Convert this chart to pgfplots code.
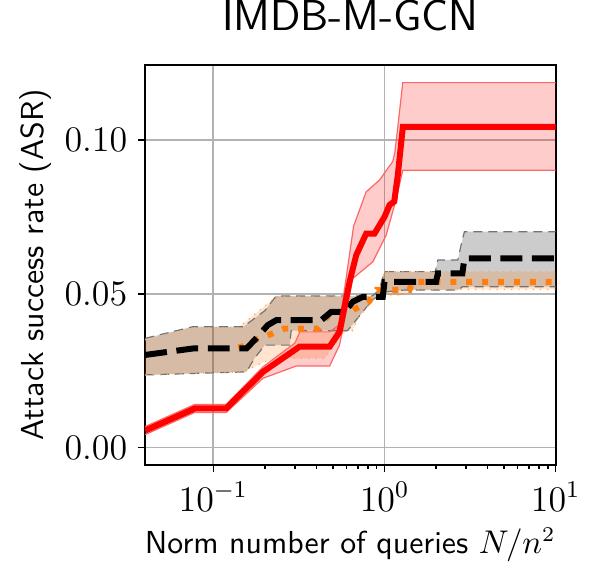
\documentclass[border=0pt]{standalone}
\usepackage{pgfplots}
\pgfplotsset{compat=1.18}
\usepgfplotslibrary{fillbetween}
\usetikzlibrary{calc}
\definecolor{mplorange}{HTML}{FF7F0E}

\begin{document}
\begin{tikzpicture}
\begin{axis}[
  scale only axis, width=136.9pt, height=133.3pt,
  xmode=log, xmin=0.0399, xmax=10, ymin=-0.0056, ymax=0.1245,
  xtick={0.1,1,10}, ytick={0,0.05,0.1}, yticklabels={$0.00$,$0.05$,$0.10$},
  xtick pos=bottom, ytick pos=left,
  tick align=outside, major tick length=2.4pt, minor tick length=1.3pt,
  every tick/.style={black, line width=0.5pt},
  grid=major, grid style={line width=0.6pt, black!30},
  axis line style={line width=0.6pt},
  tick label style={font=\fontsize{11.6}{12}\selectfont},
  title={\fontsize{14.4}{16}\selectfont\sffamily IMDB-M-GCN},
  title style={at={(axis description cs:0.5,1.0408)}, anchor=base, inner sep=0pt},
  xlabel={\fontsize{10.6}{12}\selectfont\sffamily Norm number of queries $N/n^2$},
  xlabel style={at={(axis description cs:0.5,-0.2218)}, anchor=base, inner sep=0pt},
  ylabel={\fontsize{10.6}{12}\selectfont\sffamily Attack success rate (ASR)},
  ylabel style={at={(axis description cs:-0.2476,0.5)}, anchor=base, rotate=0, inner sep=0pt},
  clip=true,
]
% gray band (black dashed method)
\addplot[name path=gu, densely dashed, black!55, line width=0.4pt] coordinates {
 (0.04,0.0355)(0.076,0.0393)(0.15,0.0393)(0.2,0.0445)(0.233,0.0493)(0.85,0.0493)(0.93,0.0512)(1.0,0.0572)(1.98,0.0572)(2.05,0.0610)(2.68,0.0610)(2.8,0.0658)(2.93,0.0702)(10,0.0702)};
\addplot[name path=gl, densely dashed, black!55, line width=0.4pt] coordinates {
 (0.04,0.0236)(0.156,0.0246)(0.174,0.0290)(0.2,0.0333)(0.279,0.0333)(0.285,0.0380)(0.608,0.0380)(0.85,0.0480)(1.0,0.0506)(1.3,0.0512)(2.7,0.0512)(2.85,0.0523)(10,0.0523)};
\addplot[black, opacity=0.2, draw=none] fill between[of=gu and gl];
% orange band
\addplot[name path=ou, dotted, mplorange!70, line width=0.4pt] coordinates {
 (0.04,0.0350)(0.076,0.0390)(0.14,0.0390)(0.2,0.0460)(0.233,0.0490)(0.9,0.0490)(1.0,0.0572)(10,0.0572)};
\addplot[name path=ol, dotted, mplorange!70, line width=0.4pt] coordinates {
 (0.04,0.0236)(0.15,0.0246)(0.2,0.0280)(0.25,0.0290)(0.45,0.0290)(0.5,0.0330)(0.6,0.0380)(0.65,0.0380)(0.7,0.0420)(0.8,0.0460)(0.9,0.0496)(1.3,0.0496)(1.45,0.0514)(10,0.0514)};
\addplot[mplorange, opacity=0.2, draw=none] fill between[of=ou and ol];
% red band
\addplot[name path=ru, red!60, line width=0.4pt] coordinates {
 (0.04,0.0068)(0.078,0.0140)(0.119,0.0140)(0.195,0.0262)(0.3,0.0340)(0.32,0.0376)(0.478,0.0376)(0.546,0.0400)(0.6,0.0560)(0.66,0.0720)(0.782,0.0832)(0.935,0.0870)(1.045,0.0908)(1.118,0.0930)(1.15,0.0960)(1.279,0.1187)(10,0.1187)};
\addplot[name path=rl, red!60, line width=0.4pt] coordinates {
 (0.04,0.0042)(0.078,0.0114)(0.119,0.0114)(0.195,0.0225)(0.305,0.0265)(0.478,0.0265)(0.546,0.0333)(0.653,0.0550)(0.855,0.0604)(1.023,0.0691)(1.16,0.0800)(1.28,0.0902)(10,0.0902)};
\addplot[red, opacity=0.2, draw=none] fill between[of=ru and rl];
% orange dotted mean (hidden under the black line below x=0.14)
\addplot[mplorange, line width=2pt, dash pattern=on 2pt off 3.3pt] coordinates {
 (0.14,0.0325)(0.15,0.0330)(0.174,0.0349)(0.22,0.0370)(0.26,0.0387)(0.41,0.0387)(0.47,0.0430)(0.6,0.0430)(0.66,0.0448)(0.81,0.0474)(0.9,0.0513)(1.4,0.0513)(1.45,0.0539)(10,0.0539)};
% black dashed mean
\addplot[black, line width=2pt, dash pattern=on 7.3pt off 3.2pt] coordinates {
 (0.04,0.0301)(0.076,0.0322)(0.156,0.0322)(0.174,0.0349)(0.208,0.0398)(0.233,0.0414)(0.427,0.0414)(0.488,0.0441)(0.584,0.0441)(0.653,0.0474)(0.747,0.0490)(0.977,0.0490)(1.0,0.0539)(2.0,0.0539)(2.05,0.0566)(2.85,0.0566)(2.93,0.0615)(10,0.0615)};
% red mean
\addplot[red, line width=2pt] coordinates {
 (0.04,0.0055)(0.078,0.0127)(0.119,0.0127)(0.195,0.0246)(0.319,0.0328)(0.478,0.0328)(0.546,0.0376)(0.625,0.0539)(0.684,0.0626)(0.782,0.0696)(0.874,0.0696)(1.0,0.0750)(1.07,0.0789)(1.14,0.0800)(1.196,0.0886)(1.28,0.1043)(10,0.1043)};
\end{axis}
\path ($(current axis.south west)+(-48.33pt,-39pt)$) rectangle ($(current axis.north east)+(14.1pt,21pt)$);
\end{tikzpicture}
\end{document}
